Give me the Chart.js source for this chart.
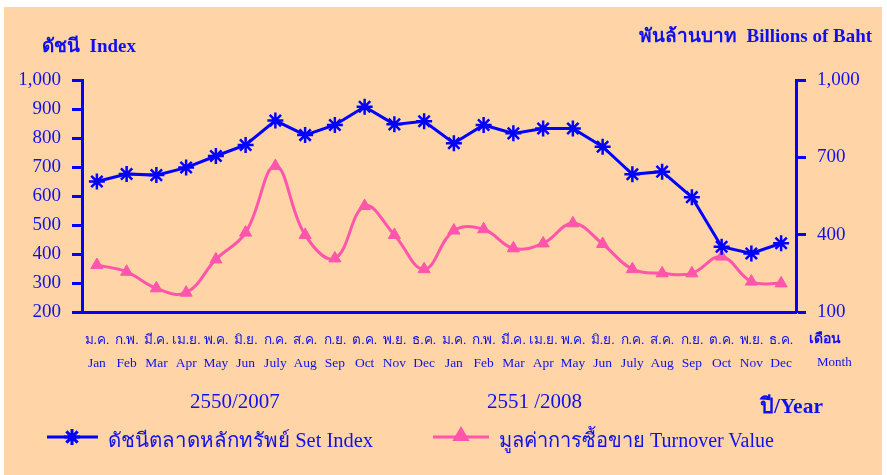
<!DOCTYPE html>
<html>
<head>
<meta charset="utf-8">
<script src="https://cdn.jsdelivr.net/npm/chart.js@4"></script>
<style>
  body { margin: 0; background: #fff; }
  #wrap { position: relative; width: 887px; height: 475px; }
  #bg { position: absolute; left: 4px; top: 7px; width: 878px; height: 468px; background: #FFD5A8; }
  canvas { position: absolute; left: 0; top: 0; }
  .t { position: absolute; color: #1010EE; font-family: "Liberation Serif", "Noto Sans", serif; white-space: nowrap; }
  .b { font-weight: bold; }
</style>
</head>
<body>
<div id="wrap">
  <div id="bg"></div>
  <canvas id="chart" width="887" height="475"></canvas>
  <div class="t b" style="left:42px; top:30px; font-size:19px;">ดัชนี&nbsp; Index</div>
  <div class="t b" style="left:639px; top:20px; font-size:19px;">พันล้านบาท&nbsp; Billions of Baht</div>
  <div class="t b" style="left:809px; top:327px; font-size:14px;">เดือน</div>
  <div class="t" style="left:817px; top:354px; font-size:13px;">Month</div>
  <div class="t" style="left:190px; top:389px; font-size:21px;">2550/2007</div>
  <div class="t" style="left:487px; top:389px; font-size:21px;">2551 /2008</div>
  <div class="t b" style="left:760px; top:388px; font-size:21.5px;">ปี/Year</div>
  <div class="t" style="left:108px; top:423px; font-size:20.5px;">ดัชนีตลาดหลักทรัพย์ Set Index</div>
  <div class="t" style="left:499px; top:424px; font-size:20px;">มูลค่าการซื้อขาย Turnover Value</div>
</div>
<script>
// month labels, Thai + English
const thaiMonths = ['ม.ค.', 'ก.พ.', 'มี.ค.', 'เม.ย.', 'พ.ค.', 'มิ.ย.', 'ก.ค.', 'ส.ค.', 'ก.ย.', 'ต.ค.', 'พ.ย.', 'ธ.ค.',
                    'ม.ค.', 'ก.พ.', 'มี.ค.', 'เม.ย.', 'พ.ค.', 'มิ.ย.', 'ก.ค.', 'ส.ค.', 'ก.ย.', 'ต.ค.', 'พ.ย.', 'ธ.ค.'];
const engMonths = ['Jan', 'Feb', 'Mar', 'Apr', 'May', 'Jun', 'July', 'Aug', 'Sep', 'Oct', 'Nov', 'Dec',
                   'Jan', 'Feb', 'Mar', 'Apr', 'May', 'Jun', 'July', 'Aug', 'Sep', 'Oct', 'Nov', 'Dec'];

// SET index (left axis)
const setIndex = [650, 676, 672, 698, 738, 776, 860, 810, 845, 908, 847, 858,
                  782, 845, 816, 833, 833, 770, 675, 684, 596, 425, 402, 437];

// turnover value, billions of baht (right axis)
const turnover = [282, 256, 192, 175, 304, 408, 666, 399, 308, 511, 399, 266,
                  416, 421, 347, 366, 444, 364, 266, 250, 250, 315, 218, 211];

const leftTicks = [200, 300, 400, 500, 600, 700, 800, 900, 1000];
const rightTicks = [100, 400, 700, 1000];

const BLUE = '#0000FF';
const PINK = '#FF55AA';
const TXT = '#1010EE';

const labels = thaiMonths.map((t, i) => [t, engMonths[i]]);

// legend line samples (text is html)
const legendMarks = {
    id: 'legendMarks',
    afterDraw(chart) {
        const ctx = chart.ctx;
        ctx.save();
        ctx.lineWidth = 3;
        ctx.strokeStyle = BLUE;
        ctx.beginPath(); ctx.moveTo(47, 437); ctx.lineTo(98, 437); ctx.stroke();
        Chart.helpers.drawPoint(ctx, { pointStyle: 'star', radius: 8, borderWidth: 2.5 }, 72, 437);
        ctx.strokeStyle = PINK;
        ctx.beginPath(); ctx.moveTo(433, 437); ctx.lineTo(489, 437); ctx.stroke();
        ctx.fillStyle = PINK;
        Chart.helpers.drawPoint(ctx, { pointStyle: 'triangle', radius: 7, borderWidth: 1 }, 461, 436);
        ctx.restore();
    }
};

new Chart(document.getElementById('chart'), {
    type: 'line',
    data: {
        labels: labels,
        datasets: [{
            label: 'Set Index',
            data: setIndex,
            yAxisID: 'y',
            borderColor: BLUE,
            backgroundColor: BLUE,
            borderWidth: 3,
            pointStyle: 'star',
            pointRadius: 8,
            pointBorderWidth: 2.5,
            tension: 0
        }, {
            label: 'Turnover Value',
            data: turnover,
            yAxisID: 'y1',
            borderColor: PINK,
            backgroundColor: PINK,
            borderWidth: 3,
            pointStyle: 'triangle',
            pointRadius: 7,
            pointBorderWidth: 1,
            tension: 0.4
        }]
    },
    options: {
        responsive: false,
        animation: false,
        layout: { padding: { top: 80, left: 0, right: 0, bottom: 0 } },
        plugins: { legend: { display: false }, tooltip: { enabled: false } },
        scales: {
            x: {
                offset: true,
                grid: { display: false, drawTicks: false },
                border: { color: BLUE, width: 3 },
                ticks: {
                    color: TXT, padding: 17, maxRotation: 0, autoSkip: false,
                    font: { family: 'Liberation Serif', size: 13.5, lineHeight: 1.7 }
                },
                afterFit: s => { s.height = 163; }
            },
            y: {
                position: 'left',
                min: 200, max: 1000,
                afterBuildTicks: s => { s.ticks = leftTicks.map(v => ({ value: v })); },
                grid: { drawOnChartArea: false, tickLength: 10, tickColor: BLUE, tickWidth: 3 },
                border: { color: BLUE, width: 3 },
                ticks: {
                    color: TXT, padding: 11,
                    font: { family: 'Liberation Serif', size: 19 },
                    callback: v => v.toLocaleString('en-US')
                },
                afterFit: s => { s.width = 82; }
            },
            y1: {
                position: 'right',
                min: 100, max: 1000,
                afterBuildTicks: s => { s.ticks = rightTicks.map(v => ({ value: v })); },
                grid: { drawOnChartArea: false, tickLength: 10, tickColor: BLUE, tickWidth: 3 },
                border: { color: BLUE, width: 3 },
                ticks: {
                    color: TXT, padding: 11,
                    font: { family: 'Liberation Serif', size: 19 },
                    callback: v => v.toLocaleString('en-US')
                },
                afterFit: s => { s.width = 91; }
            }
        }
    },
    plugins: [legendMarks]
});
</script>
</body>
</html>
